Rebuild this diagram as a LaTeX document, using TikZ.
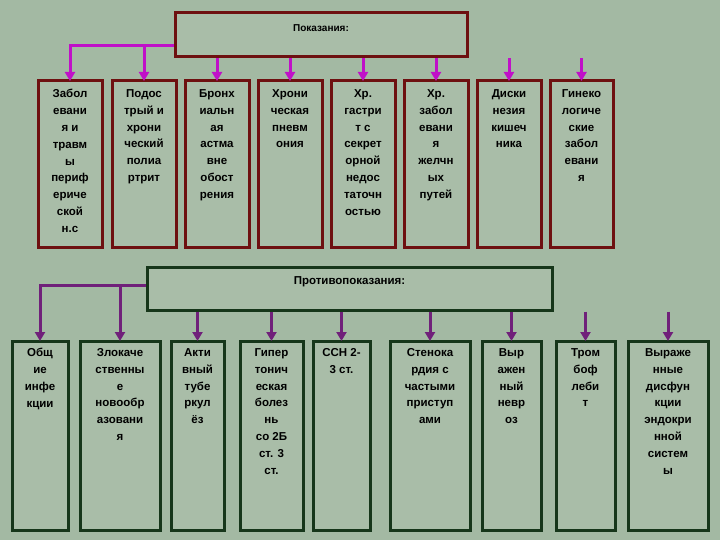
\documentclass[tikz,border=0pt]{standalone}
\usepackage{fontspec}
\setmainfont{Liberation Sans}
\usetikzlibrary{arrows.meta}
\definecolor{bgc}{HTML}{A3B9A3}
\definecolor{boxc}{HTML}{A9BDA8}
\definecolor{redc}{HTML}{6E1010}
\definecolor{grnc}{HTML}{16361A}
\definecolor{magc}{HTML}{C010C8}
\definecolor{purc}{HTML}{70207A}
\tikzset{%
  >={Triangle[width=10pt,length=9pt]},
  up/.style={draw=redc, line width=3pt, fill=boxc, inner sep=0pt},
  lo/.style={draw=grnc, line width=3pt, fill=boxc, inner sep=0pt},
  txt/.style={font=\bfseries\fontsize{11.5}{16.8}\selectfont, align=center, anchor=north},
  mlink/.style={magc, line width=3pt, ->},
  plink/.style={purc, line width=3pt, ->}
}
\begin{document}
\begin{tikzpicture}[x=1pt,y=-1pt]
  \fill[bgc] (0,0) rectangle (720,540);
  \useasboundingbox (0,0) rectangle (720,540);
  % indications
  \node[up, minimum width=292, minimum height=44] (ind) at (321,35) {};
  \node[txt, font=\bfseries\fontsize{10}{12}\selectfont] at (321,21) {Показания:};
  \foreach \n/\a/\b/\t in
    {1/38/102/{Забол\\евани\\я и\\травм\\ы\\периф\\ериче\\ской\\н.с},
     2/112/176/{Подос\\трый и\\хрони\\ческий\\полиа\\ртрит},
     3/185/249/{Бронх\\иальн\\ая\\астма\\вне\\обост\\рения},
     4/258/322/{Хрони\\ческая\\пневм\\ония},
     5/331/395/{Хр.\\гастри\\т с\\секрет\\орной\\недос\\таточн\\остью},
     6/404/468/{Хр.\\забол\\евани\\я\\желчн\\ых\\путей},
     7/477/541/{Диски\\незия\\кишеч\\ника},
     8/550/613/{Гинеко\\логиче\\ские\\забол\\евани\\я}}
  {
    \draw[up] (\a,81) rectangle (\b,247);
    \coordinate (i\n) at ({(\a+\b)/2},81);
    \node[txt] (it\n) at ({(\a+\b)/2},86) {\t};
  }
  \draw[mlink] (ind.west |- 0,46) -| (i1);
  \draw[mlink] (144,46) -- (i2);
  \foreach \n in {3,...,8} \draw[mlink] (ind.south -| i\n) -- (i\n);
  % contraindications
  \node[lo, minimum width=405, minimum height=43] (con) at (349.5,288.5) {};
  \node[txt] at (349.5,273) {Противопоказания:};
  \foreach \n/\a/\b/\t in
    {1/12/68/{Общ\\ие\\инфе\\кции},
     2/80/160/{Злокаче\\ственны\\е\\новообр\\азовани\\я},
     3/171/224/{Акти\\вный\\тубе\\ркул\\ёз},
     4/240/303/{Гипер\\тонич\\еская\\болез\\нь\\со 2Б\\ст. 3\\ст.},
     5/313/370/{ССН 2-\\3 ст.},
     6/390/470/{Стенока\\рдия с\\частыми\\приступ\\ами},
     7/482/541/{Выр\\ажен\\ный\\невр\\оз},
     8/556/615/{Тром\\боф\\леби\\т},
     9/628/708/{Выраже\\нные\\дисфун\\кции\\эндокри\\нной\\систем\\ы}}
  {
    \draw[lo] (\a,341) rectangle (\b,530);
    \coordinate (c\n) at ({(\a+\b)/2},341);
    \node[txt] (ct\n) at ({(\a+\b)/2},345) {\t};
  }
  \draw[plink] (con.west |- 0,285) -| (c1);
  \draw[plink] (120,285) -- (c2);
  \foreach \n in {3,...,9} \draw[plink] (con.south -| c\n) -- (c\n);
\end{tikzpicture}
\end{document}
